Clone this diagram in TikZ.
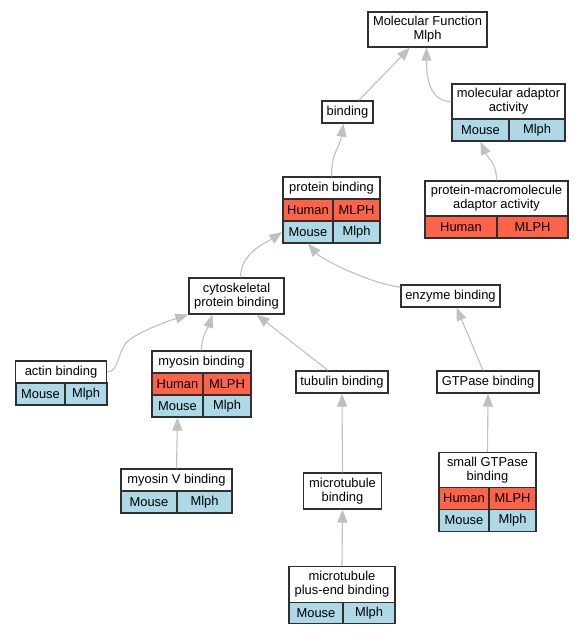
\documentclass[tikz,border=0pt]{standalone}
\usepackage{fontspec}
\setmainfont{Liberation Sans}
\usetikzlibrary{arrows.meta}
\definecolor{humc}{HTML}{FF6347}
\definecolor{mouc}{HTML}{ADD8E6}
\definecolor{edgec}{HTML}{C0C0C0}
\definecolor{bord}{HTML}{303030}
\begin{document}
\begin{tikzpicture}[x=1pt,y=-1pt,
  cell/.style={draw=bord, line width=1.3pt, inner sep=0pt, align=center,
    font=\fontsize{12.9}{14}\selectfont, text=black},
  hdr/.style={cell, fill=white},
  humcell/.style={cell, fill=humc},
  moucell/.style={cell, fill=mouc},
  edge/.style={draw=edgec, line width=1.1pt, -{Triangle[length=13pt,width=10pt]}}]
\fill[white] (0,0) rectangle (584,635);
\useasboundingbox (0,0) rectangle (584,635);

% nodes
\node[hdr, minimum width=119pt, minimum height=35pt] (MF) at (427.5,29.5) {Molecular Function\\Mlph};
\node[hdr, minimum width=51pt, minimum height=22pt] (binding) at (347.5,112) {binding};

\node[hdr, minimum width=113pt, minimum height=35pt] (MAAh) at (508.5,101.5) {molecular adaptor\\activity};
\node[moucell, minimum width=57pt, minimum height=22pt] (MAAm) at (480.5,130) {Mouse};
\node[moucell, minimum width=56pt, minimum height=22pt] (MAAmg) at (537,130) {Mlph};

\node[hdr, minimum width=143pt, minimum height=35pt] (PMAAh) at (496.5,198.5) {protein-macromolecule\\adaptor activity};
\node[humcell, minimum width=72pt, minimum height=22pt] (PMAAhu) at (461,227) {Human};
\node[humcell, minimum width=71pt, minimum height=22pt] (PMAAhg) at (532.5,227) {MLPH};

\node[hdr, minimum width=97pt, minimum height=22pt] (PBh) at (331.5,188) {protein binding};
\node[humcell, minimum width=50pt, minimum height=22pt] (PBhu) at (308,210) {Human};
\node[humcell, minimum width=47pt, minimum height=22pt] (PBhg) at (356.5,210) {MLPH};
\node[moucell, minimum width=50pt, minimum height=22pt] (PBm) at (308,232) {Mouse};
\node[moucell, minimum width=47pt, minimum height=22pt] (PBmg) at (356.5,232) {Mlph};

\node[hdr, minimum width=95pt, minimum height=36pt] (cyto) at (236.5,296) {cytoskeletal\\protein binding};
\node[hdr, minimum width=99pt, minimum height=22pt] (enzyme) at (450.5,296) {enzyme binding};

\node[hdr, minimum width=91pt, minimum height=22pt] (actinh) at (61,372) {actin binding};
\node[moucell, minimum width=49pt, minimum height=22pt] (actinm) at (40.5,394) {Mouse};
\node[moucell, minimum width=42pt, minimum height=22pt] (actinmg) at (86,394) {Mlph};

\node[hdr, minimum width=99pt, minimum height=22pt] (myoh) at (201.5,362) {myosin binding};
\node[humcell, minimum width=51pt, minimum height=22pt] (myohu) at (177.5,384) {Human};
\node[humcell, minimum width=48pt, minimum height=22pt] (myohg) at (227,384) {MLPH};
\node[moucell, minimum width=51pt, minimum height=22pt] (myom) at (177.5,406) {Mouse};
\node[moucell, minimum width=48pt, minimum height=22pt] (myomg) at (227,406) {Mlph};

\node[hdr, minimum width=92pt, minimum height=22pt] (tubulin) at (342,382) {tubulin binding};
\node[hdr, minimum width=102pt, minimum height=22pt] (gtpase) at (488,382) {GTPase binding};

\node[hdr, minimum width=111pt, minimum height=22pt] (myoVh) at (176.5,480) {myosin V binding};
\node[moucell, minimum width=56pt, minimum height=22pt] (myoVm) at (149,502) {Mouse};
\node[moucell, minimum width=55pt, minimum height=22pt] (myoVmg) at (204.5,502) {Mlph};

\node[hdr, minimum width=78pt, minimum height=36pt] (mtb) at (342.5,491) {microtubule\\binding};

\node[hdr, minimum width=97pt, minimum height=35pt] (sgh) at (487.5,470) {small GTPase\\binding};
\node[humcell, minimum width=50pt, minimum height=22pt] (sghu) at (464,498.5) {Human};
\node[humcell, minimum width=47pt, minimum height=22pt] (sghg) at (512.5,498.5) {MLPH};
\node[moucell, minimum width=50pt, minimum height=22pt] (sgm) at (464,520.5) {Mouse};
\node[moucell, minimum width=47pt, minimum height=22pt] (sgmg) at (512.5,520.5) {Mlph};

\node[hdr, minimum width=106pt, minimum height=36pt] (peh) at (342,584.5) {microtubule\\plus-end binding};
\node[moucell, minimum width=54pt, minimum height=21pt] (pem) at (316,613) {Mouse};
\node[moucell, minimum width=52pt, minimum height=21pt] (pemg) at (369,613) {Mlph};

% edges
\draw[edge] (binding) -- (MF);
\draw[edge] (MAAh.west) .. controls +(-22,0) and +(0,30) .. ([xshift=-1pt]MF.south);
\draw[edge] (PMAAh.north) .. controls +(0,-18) and +(8,18) .. (MAAm.south);
\draw[edge] (PBh.north) .. controls +(0,-25) and +(-4,25) .. ([xshift=-4pt]binding.south);
\draw[edge] ([xshift=4pt]cyto.north) .. controls +(0,-25) and +(-15,10) .. (PBm.west);
\draw[edge] (enzyme.170) .. controls +(-31,-4) and +(14,16) .. (PBm.south);
\draw[edge] (actinh.east) .. controls +(11.5,0) and (118,352) .. (126,343)
  .. controls (135,333) and (165,322) .. (cyto.south west);
\draw[edge] (myoh.north) .. controls +(0,-15) and +(-4,12) .. ([xshift=-24pt]cyto.south);
\draw[edge] ([xshift=-14pt]tubulin.north) -- ([xshift=20pt]cyto.south);
\draw[edge] ([xshift=-5pt]gtpase.north) -- ([xshift=6pt]enzyme.south);
\draw[edge] (myoVh.north) -- (myom.south);
\draw[edge] (mtb.north) -- (tubulin.south);
\draw[edge] (sgh.north) -- (gtpase.south);
\draw[edge] (peh.north) -- (mtb.south);
\end{tikzpicture}
\end{document}
